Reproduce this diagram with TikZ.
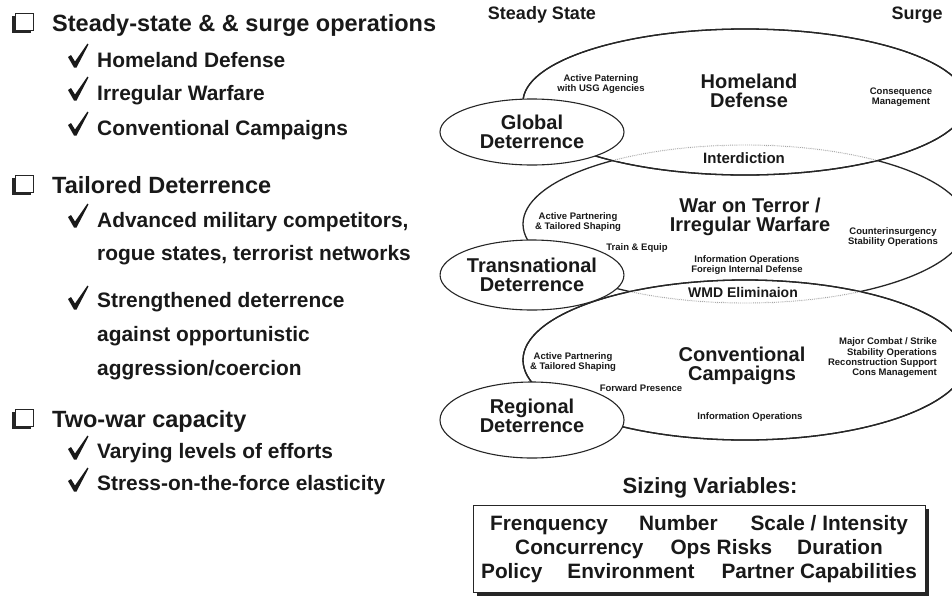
\documentclass[tikz,border=0pt]{standalone}
\usepackage{fontspec}
\setmainfont{Liberation Sans}
\usetikzlibrary{shapes.geometric,shadows}
\begin{document}
\begin{tikzpicture}[x=1pt,y=-1pt,
  every node/.style={inner sep=0pt, text=black!90},
  headtxt/.style={font=\fontsize{23.5}{25}\selectfont\bfseries, anchor=base west},
  itemtxt/.style={font=\fontsize{20.9}{22}\selectfont\bfseries, anchor=base west},
  titletxt/.style={font=\fontsize{20}{19}\selectfont\bfseries, align=center},
  notetxt/.style={font=\fontsize{9.5}{9.5}\selectfont\bfseries, align=center},
  midtxt/.style={font=\fontsize{15}{15}\selectfont\bfseries},
  cornertxt/.style={font=\fontsize{18}{18}\selectfont\bfseries},
  boxtxt/.style={font=\fontsize{20.8}{24}\selectfont\bfseries, align=center},
  bigring/.style={draw=black!85, line width=1.3pt},
  eraseline/.style={draw=white, line width=2.6pt},
  overlap/.style={draw=black!35, line width=0.9pt, densely dotted},
  deter/.style={ellipse, draw=black!85, line width=1.1pt, fill=white, titletxt,
    minimum width=184pt, minimum height=66pt},
  hdpath/.style={insert path={(hd) ellipse [x radius=222pt, y radius=73pt]}},
  wotpath/.style={insert path={(wot) ellipse [x radius=222pt, y radius=79pt]}},
  ccpath/.style={insert path={(cc) ellipse [x radius=222pt, y radius=80pt]}},
  checkmark/.pic={\fill[black!90] (0,13) -- (3,11) -- (7,17.5) -- (19.5,-0.5)
    -- (20.5,0.5) -- (8.5,23.5) -- (6,23.5) -- cycle;},
  cbox/.pic={\fill[black!85] (-3,3) rectangle (16,20);
    \draw[black!85, line width=0.9pt, fill=white] (0,0) rectangle (18,17);}
]
\useasboundingbox[fill=white] (0,0) rectangle (952,595);

% ---------- left column: requirements list ----------
\pic at (15,13) {cbox};
\node[headtxt] (h1) at (52,31) {Steady-state \& \& surge operations};
\pic at (68,44) {checkmark};
\node[itemtxt] (i1) at (97,67) {Homeland Defense};
\pic at (68,77) {checkmark};
\node[itemtxt] (i2) at (97,100) {Irregular Warfare};
\pic at (68,112) {checkmark};
\node[itemtxt] (i3) at (97,135) {Conventional Campaigns};

\pic at (15,175) {cbox};
\node[headtxt] (h2) at (52,193) {Tailored Deterrence};
\pic at (68,204) {checkmark};
\node[itemtxt] (i4) at (97,227) {Advanced military competitors,};
\node[itemtxt] (i5) at (97,260) {rogue states, terrorist networks};
\pic at (68,286) {checkmark};
\node[itemtxt] (i6) at (97,307) {Strengthened deterrence};
\node[itemtxt] (i7) at (97,341) {against opportunistic};
\node[itemtxt] (i8) at (97,375) {aggression/coercion};

\pic at (15,409) {cbox};
\node[headtxt] (h3) at (52,427) {Two-war capacity};
\pic at (68,436) {checkmark};
\node[itemtxt] (i9) at (97,458) {Varying levels of efforts};
\pic at (68,468) {checkmark};
\node[itemtxt] (i10) at (97,490) {Stress-on-the-force elasticity};

% ---------- right column: overlapping mission areas ----------
\coordinate (hd) at (745,102);
\coordinate (wot) at (745,224);
\coordinate (cc) at (745,360);

\path[bigring] [hdpath];
\path[bigring] [wotpath];
\path[bigring] [ccpath];

% the middle ring turns faint where it runs inside its neighbours
\begin{scope}
  \clip [hdpath];
  \path[eraseline] [wotpath];
  \path[overlap] [wotpath];
\end{scope}
\begin{scope}
  \clip [ccpath];
  \path[eraseline] [wotpath];
  \path[overlap] [wotpath];
\end{scope}
\path[bigring] [hdpath];
\path[bigring] [ccpath];

\node[deter] (global) at (532,132) {Global\\Deterrence};
\node[deter, minimum width=180pt, minimum height=70pt] (trans) at (532,275) {Transnational\\Deterrence};
\node[deter, minimum height=76pt] (regional) at (532,420) {};
\node[titletxt] (regtxt) at (532,416) {Regional\\Deterrence};

\node[cornertxt] (steady) at (542,15) {Steady State};
\node[cornertxt] (surge) at (917,15) {Surge};

\node[notetxt] (ap1) at (601,84) {Active Paterning\\with USG Agencies};
\node[titletxt] (hdtitle) at (749,91) {Homeland\\Defense};
\node[notetxt] (cm) at (901,97) {Consequence\\Management};
\node[midtxt] (interd) at (744,158) {Interdiction};

\node[notetxt] (ap2) at (578,222) {Active Partnering\\\& Tailored Shaping};
\node[titletxt] (wottitle) at (750,217) {War on Terror /\\Irregular Warfare};
\node[notetxt] (coin) at (893,237) {Counterinsurgency\\Stability Operations};
\node[notetxt] (train) at (637,248) {Train \& Equip};
\node[notetxt] (io1) at (747,265) {Information Operations\\Foreign Internal Defense};
\node[midtxt, font=\fontsize{14}{14}\selectfont\bfseries] (wmd) at (743,292) {WMD Eliminaion};

\node[notetxt] (ap3) at (573,362) {Active Partnering\\\& Tailored Shaping};
\node[titletxt] (cctitle) at (742,366) {Conventional\\Campaigns};
\node[notetxt, align=right, font=\fontsize{9.5}{10.3}\selectfont\bfseries, anchor=east] (mco) at (937,358)
  {Major Combat / Strike\\Stability Operations\\Reconstruction Support\\Cons Management};
\node[notetxt] (fp) at (641,388) {Forward Presence};
\node[notetxt] (io2) at (750,417) {Information Operations};

% ---------- sizing variables ----------
\node[font=\fontsize{22}{22}\selectfont\bfseries] (sizing) at (710,488) {Sizing Variables:};
\node[boxtxt, draw=black!85, line width=1pt, fill=white,
  drop shadow={shadow xshift=4pt, shadow yshift=-3pt, fill=black!85, opacity=1},
  minimum width=452pt, minimum height=87pt] (vars) at (699,549)
  {Frenquency\hspace{31pt}Number\hspace{33pt}Scale / Intensity\\
   Concurrency\hspace{27pt}Ops Risks\hspace{25pt}Duration\\
   Policy\hspace{25pt}Environment\hspace{27pt}Partner Capabilities};
\end{tikzpicture}
\end{document}
